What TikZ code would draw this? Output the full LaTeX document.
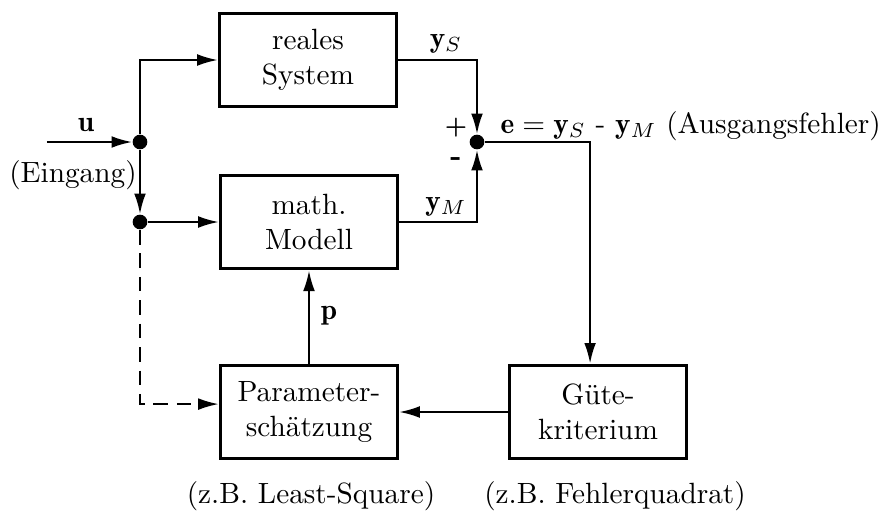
\documentclass[tikz,border=0pt]{standalone}
\usepackage{fontspec}
\usetikzlibrary{arrows.meta,calc}
\begin{document}
\begin{tikzpicture}[x=0.3413pt,y=-0.3413pt,
  blk/.style={draw,line width=1.1pt,minimum width=60.5pt,minimum height=32pt,align=center,inner sep=0pt},
  arr/.style={line width=0.7pt,-{Latex[length=7pt,width=4pt]}},
  dot/.style={circle,fill=black,inner sep=0pt,minimum size=5pt},
  lbl/.style={inner sep=0pt}]
\useasboundingbox (0,0) rectangle (885,514);
% blocks
\node[blk] (sys) at (308,60) {reales\\System};
\node[blk] (mod) at (309,222) {math.\\Modell};
\node[blk] (par) at (309,412) {Parameter-\\schätzung};
\node[blk] (gue) at (598,412) {Güte-\\kriterium};
% junctions
\node[dot] (d1) at (140,142) {};
\node[dot] (d2) at (140,222) {};
\node[dot] (s) at (477,142) {};
\coordinate (uin) at (47,142);
% connectors
\draw[arr] (uin) -- (d1);
\draw[arr] (d1) |- (sys.west);
\draw[arr] (d1) -- (d2);
\draw[arr] (d2) -- (mod.west);
\draw[arr,dashed,dash pattern=on 5pt off 3pt] (d2) |- ([yshift=2.7pt]par.west);
\draw[arr] (sys.east) -| (s);
\draw[arr] (mod.east) -| (s);
\draw[arr] (s) -| ([xshift=-2.7pt]gue.north);
\draw[arr] (gue.west) -- (par.east);
\draw[arr] (par.north) -- (mod.south);
% labels
\node[lbl] (lu) at (86,125) {$\mathbf{u}$};
\node[lbl] (lein) at (73,175) {(Eingang)};
\node[lbl] (lys) at (446,44) {$\mathbf{y}_S$};
\node[lbl] (lym) at (446,207) {$\mathbf{y}_M$};
\node[lbl] (lplus) at (456,128) {\footnotesize\textbf{+}};
\node[lbl] (lminus) at (456,162) {\textbf{-}};
\node[lbl,anchor=west] (le) at (500,126) {$\mathbf{e} = \mathbf{y}_S$ - $\mathbf{y}_M$ (Ausgangsfehler)};
\node[lbl] (lp) at (329,316) {$\mathbf{p}$};
\node[lbl] (lls) at (311,496) {(z.B. Least-Square)};
\node[lbl] (lfq) at (615,496) {(z.B. Fehlerquadrat)};
\end{tikzpicture}
\end{document}
